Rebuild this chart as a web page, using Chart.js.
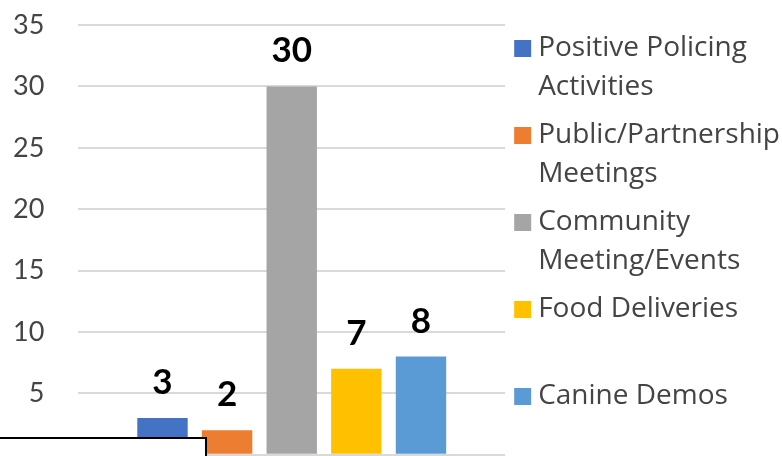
<!DOCTYPE html>
<html>
<head>
<meta charset="utf-8">
<script src="https://cdn.jsdelivr.net/npm/chart.js@4"></script>
<style>
    html, body { margin: 0; padding: 0; background: #fff; overflow: hidden; }
    #wrap { position: relative; width: 782px; height: 471px; }
    #cover {
        position: absolute; left: -5px; top: 437px; width: 212px; height: 60px;
        box-sizing: border-box; border: 2px solid #000; background: #fff;
    }
</style>
</head>
<body>
<div id="wrap">
    <canvas id="chart" width="782" height="471"></canvas>
    <div id="cover"></div>
</div>
<script>
// one category, one bar per activity type
const categories = [""];
const seriesNames = [
    ["Positive Policing", "Activities"],
    ["Public/Partnership", "Meetings"],
    ["Community", "Meeting/Events"],
    ["Food Deliveries", ""],
    ["Canine Demos"]
];
const seriesValues = [3, 2, 30, 7, 8];
const seriesColours = ["#4472C4", "#ED7D31", "#A5A5A5", "#FFC000", "#5B9BD5"];
const yTicks = [0, 5, 10, 15, 20, 25, 30, 35];

// legend swatch: a square sitting a bit right of centre so the text gap stays narrow
function swatch(colour) {
    const c = document.createElement("canvas");
    c.width = 30;
    c.height = 17;
    const g = c.getContext("2d");
    g.fillStyle = colour;
    g.fillRect(10, 0, 17, 17);
    return c;
}

// writes each bar's value above it
const valueLabels = {
    id: "valueLabels",
    afterDatasetsDraw(chart) {
        const ctx = chart.ctx;
        ctx.save();
        ctx.font = "bold 35px Lato";
        ctx.fillStyle = "#000";
        ctx.textAlign = "center";
        ctx.textBaseline = "alphabetic";
        chart.data.datasets.forEach((ds, i) => {
            const bar = chart.getDatasetMeta(i).data[0];
            ctx.fillText(ds.data[0], bar.x, bar.y - 24);
        });
        ctx.restore();
    }
};

new Chart(document.getElementById("chart"), {
    type: "bar",
    data: {
        labels: categories,
        datasets: seriesValues.map((v, i) => ({
            label: seriesNames[i],
            data: [v],
            backgroundColor: seriesColours[i],
            pointStyle: swatch(seriesColours[i]),
            categoryPercentage: 0.757,
            barPercentage: 0.78
        }))
    },
    options: {
        responsive: false,
        animation: false,
        layout: { padding: { left: 13, top: 25, right: -8, bottom: 0 } },
        scales: {
            x: { display: false },
            y: {
                min: 0,
                max: 35,
                afterBuildTicks: axis => { axis.ticks = yTicks.map(v => ({ value: v })); },
                ticks: { color: "#444", font: { family: "Lato", size: 27 }, padding: 0 },
                grid: { color: "#d9d9d9", lineWidth: 2, tickLength: 34, tickColor: "rgba(0,0,0,0)" },
                border: { display: false }
            }
        },
        plugins: {
            legend: {
                position: "right",
                align: "start",
                maxWidth: 320,
                labels: {
                    usePointStyle: true,
                    pointStyleWidth: 10,
                    boxHeight: 17,
                    padding: 9,
                    color: "#444",
                    font: { family: "Open Sans", size: 28, lineHeight: "39px" }
                }
            },
            tooltip: { enabled: false }
        }
    },
    plugins: [valueLabels]
});
</script>
</body>
</html>
